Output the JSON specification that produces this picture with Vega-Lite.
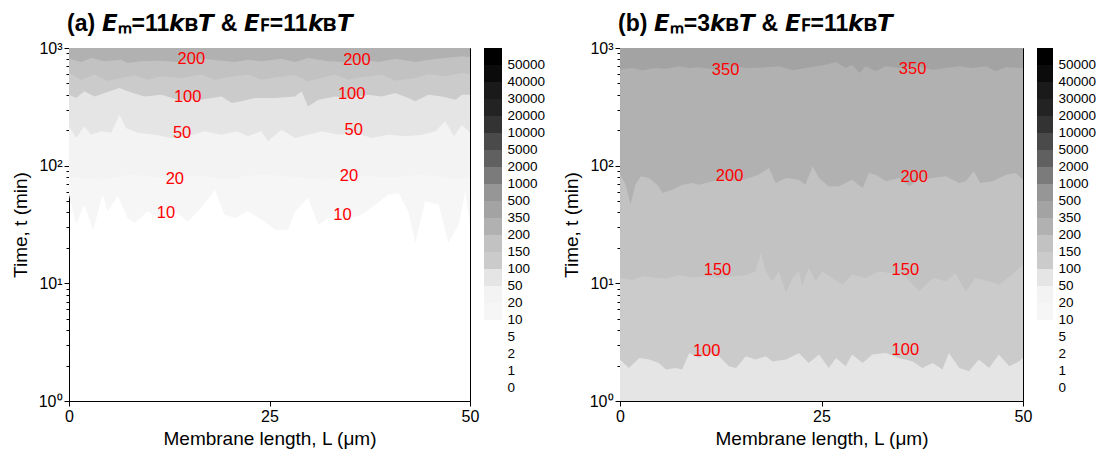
{
  "$schema": "https://vega.github.io/schema/vega-lite/v6.json",
  "background": "white",
  "padding": {"left": 10, "top": 12, "right": 5, "bottom": 5},
  "config": {
    "font": "Liberation Sans",
    "view": {"stroke": "#000000", "strokeWidth": 1},
    "axis": {
      "labelFont": "Liberation Sans",
      "labelFontSize": 16,
      "labelColor": "#000000",
      "titleFont": "Liberation Sans",
      "titleFontSize": 19,
      "titleFontWeight": "normal",
      "titleColor": "#000000",
      "domainColor": "#000000",
      "tickColor": "#000000",
      "grid": false
    },
    "title": {"font": "Liberation Sans", "fontSize": 23, "fontWeight": "bold", "color": "#000000", "anchor": "start", "frame": "group", "offset": 0, "dx": -2}
  },
  "datasets": {
    "contours": [
      {"panel": "a", "level": 10, "L": 0, "t": 56.7}, {"panel": "a", "level": 10, "L": 0.9, "t": 31.5}, {"panel": "a", "level": 10, "L": 1.9, "t": 46.6}, {"panel": "a", "level": 10, "L": 3, "t": 28.6}, {"panel": "a", "level": 10, "L": 4.2, "t": 56.7}, {"panel": "a", "level": 10, "L": 4.8, "t": 40.9}, {"panel": "a", "level": 10, "L": 6.1, "t": 54.9}, {"panel": "a", "level": 10, "L": 7.3, "t": 35.9}, {"panel": "a", "level": 10, "L": 8.2, "t": 32.6}, {"panel": "a", "level": 10, "L": 9.8, "t": 40.9}, {"panel": "a", "level": 10, "L": 11.5, "t": 34.8}, {"panel": "a", "level": 10, "L": 13.2, "t": 40.9}, {"panel": "a", "level": 10, "L": 14.8, "t": 33.6}, {"panel": "a", "level": 10, "L": 16.5, "t": 43.7}, {"panel": "a", "level": 10, "L": 18.2, "t": 62.5}, {"panel": "a", "level": 10, "L": 19.4, "t": 38.3}, {"panel": "a", "level": 10, "L": 20.7, "t": 35.9}, {"panel": "a", "level": 10, "L": 22.3, "t": 40.9}, {"panel": "a", "level": 10, "L": 24, "t": 34.8}, {"panel": "a", "level": 10, "L": 25.7, "t": 28.6}, {"panel": "a", "level": 10, "L": 27.3, "t": 28.6}, {"panel": "a", "level": 10, "L": 28.2, "t": 40.9}, {"panel": "a", "level": 10, "L": 29.8, "t": 53.1}, {"panel": "a", "level": 10, "L": 31.1, "t": 31.5}, {"panel": "a", "level": 10, "L": 32.3, "t": 35.9}, {"panel": "a", "level": 10, "L": 34.4, "t": 34.8}, {"panel": "a", "level": 10, "L": 36.5, "t": 38.3}, {"panel": "a", "level": 10, "L": 38.2, "t": 46.6}, {"panel": "a", "level": 10, "L": 39.8, "t": 56.7}, {"panel": "a", "level": 10, "L": 41.1, "t": 58.6}, {"panel": "a", "level": 10, "L": 42.3, "t": 40.9}, {"panel": "a", "level": 10, "L": 43.2, "t": 22}, {"panel": "a", "level": 10, "L": 44.4, "t": 49.8}, {"panel": "a", "level": 10, "L": 46.1, "t": 46.6}, {"panel": "a", "level": 10, "L": 47.3, "t": 22}, {"panel": "a", "level": 10, "L": 48.6, "t": 31.5}, {"panel": "a", "level": 10, "L": 49.4, "t": 60.5}, {"panel": "a", "level": 10, "L": 50, "t": 31.5},

      {"panel": "a", "level": 20, "L": 0, "t": 80}, {"panel": "a", "level": 20, "L": 4, "t": 76}, {"panel": "a", "level": 20, "L": 8, "t": 84}, {"panel": "a", "level": 20, "L": 12, "t": 78}, {"panel": "a", "level": 20, "L": 16, "t": 82}, {"panel": "a", "level": 20, "L": 20, "t": 77}, {"panel": "a", "level": 20, "L": 24, "t": 85}, {"panel": "a", "level": 20, "L": 28, "t": 80}, {"panel": "a", "level": 20, "L": 32, "t": 76}, {"panel": "a", "level": 20, "L": 36, "t": 83}, {"panel": "a", "level": 20, "L": 40, "t": 79}, {"panel": "a", "level": 20, "L": 44, "t": 84}, {"panel": "a", "level": 20, "L": 48, "t": 77}, {"panel": "a", "level": 20, "L": 50, "t": 80},

      {"panel": "a", "level": 50, "L": 0, "t": 216}, {"panel": "a", "level": 50, "L": 0.9, "t": 172}, {"panel": "a", "level": 50, "L": 1.9, "t": 216}, {"panel": "a", "level": 50, "L": 2.75, "t": 183}, {"panel": "a", "level": 50, "L": 4, "t": 196}, {"panel": "a", "level": 50, "L": 5.25, "t": 190}, {"panel": "a", "level": 50, "L": 6.3, "t": 271}, {"panel": "a", "level": 50, "L": 7.1, "t": 209}, {"panel": "a", "level": 50, "L": 8.6, "t": 190}, {"panel": "a", "level": 50, "L": 10.7, "t": 183}, {"panel": "a", "level": 50, "L": 12.75, "t": 172}, {"panel": "a", "level": 50, "L": 14.8, "t": 178}, {"panel": "a", "level": 50, "L": 16.9, "t": 196}, {"panel": "a", "level": 50, "L": 19, "t": 183}, {"panel": "a", "level": 50, "L": 21, "t": 196}, {"panel": "a", "level": 50, "L": 22.3, "t": 178}, {"panel": "a", "level": 50, "L": 24, "t": 196}, {"panel": "a", "level": 50, "L": 24.8, "t": 161}, {"panel": "a", "level": 50, "L": 26.5, "t": 202}, {"panel": "a", "level": 50, "L": 28.2, "t": 172}, {"panel": "a", "level": 50, "L": 29.8, "t": 183}, {"panel": "a", "level": 50, "L": 31.5, "t": 196}, {"panel": "a", "level": 50, "L": 33.6, "t": 183}, {"panel": "a", "level": 50, "L": 35.7, "t": 190}, {"panel": "a", "level": 50, "L": 37.75, "t": 172}, {"panel": "a", "level": 50, "L": 39.8, "t": 183}, {"panel": "a", "level": 50, "L": 41.9, "t": 178}, {"panel": "a", "level": 50, "L": 44, "t": 183}, {"panel": "a", "level": 50, "L": 45.7, "t": 196}, {"panel": "a", "level": 50, "L": 46.9, "t": 238}, {"panel": "a", "level": 50, "L": 48, "t": 178}, {"panel": "a", "level": 50, "L": 49, "t": 223}, {"panel": "a", "level": 50, "L": 50, "t": 190},

      {"panel": "a", "level": 100, "L": 0, "t": 401}, {"panel": "a", "level": 100, "L": 0.9, "t": 376}, {"panel": "a", "level": 100, "L": 1.9, "t": 428}, {"panel": "a", "level": 100, "L": 3.2, "t": 388}, {"panel": "a", "level": 100, "L": 4.4, "t": 415}, {"panel": "a", "level": 100, "L": 6.3, "t": 457}, {"panel": "a", "level": 100, "L": 7.3, "t": 428}, {"panel": "a", "level": 100, "L": 9.4, "t": 388}, {"panel": "a", "level": 100, "L": 11.5, "t": 401}, {"panel": "a", "level": 100, "L": 13.6, "t": 364}, {"panel": "a", "level": 100, "L": 16.5, "t": 364}, {"panel": "a", "level": 100, "L": 19, "t": 388}, {"panel": "a", "level": 100, "L": 20.3, "t": 341}, {"panel": "a", "level": 100, "L": 21.5, "t": 352}, {"panel": "a", "level": 100, "L": 23.2, "t": 376}, {"panel": "a", "level": 100, "L": 25.7, "t": 376}, {"panel": "a", "level": 100, "L": 28.2, "t": 388}, {"panel": "a", "level": 100, "L": 29, "t": 428}, {"panel": "a", "level": 100, "L": 29.8, "t": 319}, {"panel": "a", "level": 100, "L": 31.1, "t": 364}, {"panel": "a", "level": 100, "L": 33.2, "t": 388}, {"panel": "a", "level": 100, "L": 34.8, "t": 376}, {"panel": "a", "level": 100, "L": 37.3, "t": 401}, {"panel": "a", "level": 100, "L": 39, "t": 388}, {"panel": "a", "level": 100, "L": 40.7, "t": 415}, {"panel": "a", "level": 100, "L": 42.3, "t": 376}, {"panel": "a", "level": 100, "L": 43.2, "t": 352}, {"panel": "a", "level": 100, "L": 44.8, "t": 401}, {"panel": "a", "level": 100, "L": 46.5, "t": 388}, {"panel": "a", "level": 100, "L": 48.2, "t": 364}, {"panel": "a", "level": 100, "L": 49, "t": 401}, {"panel": "a", "level": 100, "L": 50, "t": 401},

      {"panel": "a", "level": 150, "L": 0, "t": 613}, {"panel": "a", "level": 150, "L": 1.5, "t": 538}, {"panel": "a", "level": 150, "L": 3.2, "t": 594}, {"panel": "a", "level": 150, "L": 4.8, "t": 528}, {"panel": "a", "level": 150, "L": 6.5, "t": 556}, {"panel": "a", "level": 150, "L": 8.2, "t": 586}, {"panel": "a", "level": 150, "L": 9.8, "t": 538}, {"panel": "a", "level": 150, "L": 11.5, "t": 574}, {"panel": "a", "level": 150, "L": 14, "t": 556}, {"panel": "a", "level": 150, "L": 16.5, "t": 594}, {"panel": "a", "level": 150, "L": 18.2, "t": 538}, {"panel": "a", "level": 150, "L": 19.8, "t": 563}, {"panel": "a", "level": 150, "L": 22.3, "t": 594}, {"panel": "a", "level": 150, "L": 24, "t": 538}, {"panel": "a", "level": 150, "L": 25.7, "t": 563}, {"panel": "a", "level": 150, "L": 28.2, "t": 586}, {"panel": "a", "level": 150, "L": 29.8, "t": 521}, {"panel": "a", "level": 150, "L": 31.5, "t": 556}, {"panel": "a", "level": 150, "L": 33.2, "t": 594}, {"panel": "a", "level": 150, "L": 34.8, "t": 538}, {"panel": "a", "level": 150, "L": 36.5, "t": 563}, {"panel": "a", "level": 150, "L": 39, "t": 594}, {"panel": "a", "level": 150, "L": 40.7, "t": 528}, {"panel": "a", "level": 150, "L": 43.2, "t": 556}, {"panel": "a", "level": 150, "L": 44.8, "t": 601}, {"panel": "a", "level": 150, "L": 46.9, "t": 574}, {"panel": "a", "level": 150, "L": 49, "t": 613}, {"panel": "a", "level": 150, "L": 50, "t": 594},

      {"panel": "a", "level": 200, "L": 0, "t": 812}, {"panel": "a", "level": 200, "L": 1.5, "t": 760}, {"panel": "a", "level": 200, "L": 2.75, "t": 822}, {"panel": "a", "level": 200, "L": 4.4, "t": 770}, {"panel": "a", "level": 200, "L": 6.5, "t": 796}, {"panel": "a", "level": 200, "L": 7.3, "t": 746}, {"panel": "a", "level": 200, "L": 9, "t": 770}, {"panel": "a", "level": 200, "L": 11.5, "t": 780}, {"panel": "a", "level": 200, "L": 13.6, "t": 760}, {"panel": "a", "level": 200, "L": 16.9, "t": 812}, {"panel": "a", "level": 200, "L": 19, "t": 780}, {"panel": "a", "level": 200, "L": 20.7, "t": 760}, {"panel": "a", "level": 200, "L": 22.3, "t": 796}, {"panel": "a", "level": 200, "L": 24, "t": 770}, {"panel": "a", "level": 200, "L": 26.5, "t": 812}, {"panel": "a", "level": 200, "L": 28.2, "t": 760}, {"panel": "a", "level": 200, "L": 29.8, "t": 822}, {"panel": "a", "level": 200, "L": 32.3, "t": 770}, {"panel": "a", "level": 200, "L": 34.4, "t": 760}, {"panel": "a", "level": 200, "L": 36.5, "t": 796}, {"panel": "a", "level": 200, "L": 38.6, "t": 760}, {"panel": "a", "level": 200, "L": 40.7, "t": 812}, {"panel": "a", "level": 200, "L": 43.2, "t": 760}, {"panel": "a", "level": 200, "L": 44.8, "t": 796}, {"panel": "a", "level": 200, "L": 46.9, "t": 822}, {"panel": "a", "level": 200, "L": 49, "t": 850}, {"panel": "a", "level": 200, "L": 50, "t": 833},

      {"panel": "b", "level": 50, "L": 0, "t": 1}, {"panel": "b", "level": 50, "L": 50, "t": 1},

      {"panel": "b", "level": 100, "L": 0, "t": 2.25}, {"panel": "b", "level": 100, "L": 1.1, "t": 1.91}, {"panel": "b", "level": 100, "L": 2.4, "t": 2.32}, {"panel": "b", "level": 100, "L": 3.6, "t": 2.25}, {"panel": "b", "level": 100, "L": 4.8, "t": 2.1}, {"panel": "b", "level": 100, "L": 5.7, "t": 1.85}, {"panel": "b", "level": 100, "L": 6.9, "t": 1.91}, {"panel": "b", "level": 100, "L": 7.7, "t": 1.85}, {"panel": "b", "level": 100, "L": 8.6, "t": 2.56}, {"panel": "b", "level": 100, "L": 9.8, "t": 2.32}, {"panel": "b", "level": 100, "L": 11, "t": 2.56}, {"panel": "b", "level": 100, "L": 12.3, "t": 2.4}, {"panel": "b", "level": 100, "L": 13.5, "t": 1.97}, {"panel": "b", "level": 100, "L": 14.4, "t": 1.91}, {"panel": "b", "level": 100, "L": 15.6, "t": 2.4}, {"panel": "b", "level": 100, "L": 16.8, "t": 2.25}, {"panel": "b", "level": 100, "L": 18.1, "t": 2.4}, {"panel": "b", "level": 100, "L": 18.9, "t": 2.17}, {"panel": "b", "level": 100, "L": 20.6, "t": 2.25}, {"panel": "b", "level": 100, "L": 22.2, "t": 2.56}, {"panel": "b", "level": 100, "L": 23.4, "t": 2.1}, {"panel": "b", "level": 100, "L": 24.7, "t": 2.48}, {"panel": "b", "level": 100, "L": 25.9, "t": 1.91}, {"panel": "b", "level": 100, "L": 26.8, "t": 2.32}, {"panel": "b", "level": 100, "L": 28, "t": 1.97}, {"panel": "b", "level": 100, "L": 28.8, "t": 2.48}, {"panel": "b", "level": 100, "L": 30.1, "t": 2.1}, {"panel": "b", "level": 100, "L": 31.3, "t": 2.48}, {"panel": "b", "level": 100, "L": 33, "t": 2.56}, {"panel": "b", "level": 100, "L": 34.6, "t": 2.32}, {"panel": "b", "level": 100, "L": 36.3, "t": 2.17}, {"panel": "b", "level": 100, "L": 37.5, "t": 1.91}, {"panel": "b", "level": 100, "L": 38.8, "t": 2.1}, {"panel": "b", "level": 100, "L": 40, "t": 1.85}, {"panel": "b", "level": 100, "L": 40.8, "t": 2.56}, {"panel": "b", "level": 100, "L": 42.1, "t": 1.91}, {"panel": "b", "level": 100, "L": 43.3, "t": 1.79}, {"panel": "b", "level": 100, "L": 44.5, "t": 2.25}, {"panel": "b", "level": 100, "L": 45.8, "t": 1.91}, {"panel": "b", "level": 100, "L": 47, "t": 2.48}, {"panel": "b", "level": 100, "L": 48.3, "t": 1.97}, {"panel": "b", "level": 100, "L": 49.5, "t": 2.17}, {"panel": "b", "level": 100, "L": 50, "t": 2.32},

      {"panel": "b", "level": 150, "L": 0, "t": 11.1}, {"panel": "b", "level": 150, "L": 1.5, "t": 10.7}, {"panel": "b", "level": 150, "L": 2.8, "t": 11.5}, {"panel": "b", "level": 150, "L": 4.4, "t": 11.1}, {"panel": "b", "level": 150, "L": 5.7, "t": 11}, {"panel": "b", "level": 150, "L": 7.3, "t": 11.7}, {"panel": "b", "level": 150, "L": 9, "t": 11.2}, {"panel": "b", "level": 150, "L": 10.6, "t": 11.5}, {"panel": "b", "level": 150, "L": 12.3, "t": 11.1}, {"panel": "b", "level": 150, "L": 13.9, "t": 11.5}, {"panel": "b", "level": 150, "L": 15.6, "t": 11.7}, {"panel": "b", "level": 150, "L": 16.8, "t": 12.6}, {"panel": "b", "level": 150, "L": 17.5, "t": 18.1}, {"panel": "b", "level": 150, "L": 18.1, "t": 12.6}, {"panel": "b", "level": 150, "L": 18.9, "t": 10.4}, {"panel": "b", "level": 150, "L": 19.7, "t": 12.6}, {"panel": "b", "level": 150, "L": 20.6, "t": 8.28}, {"panel": "b", "level": 150, "L": 21.4, "t": 11.1}, {"panel": "b", "level": 150, "L": 22.2, "t": 12.6}, {"panel": "b", "level": 150, "L": 22.6, "t": 9.43}, {"panel": "b", "level": 150, "L": 23.4, "t": 13.5}, {"panel": "b", "level": 150, "L": 24.3, "t": 10.4}, {"panel": "b", "level": 150, "L": 25.1, "t": 12.6}, {"panel": "b", "level": 150, "L": 26.3, "t": 11.1}, {"panel": "b", "level": 150, "L": 27.6, "t": 9.74}, {"panel": "b", "level": 150, "L": 28.8, "t": 11.9}, {"panel": "b", "level": 150, "L": 30.5, "t": 11.1}, {"panel": "b", "level": 150, "L": 32.1, "t": 12.6}, {"panel": "b", "level": 150, "L": 33.8, "t": 12.2}, {"panel": "b", "level": 150, "L": 35.4, "t": 11.5}, {"panel": "b", "level": 150, "L": 37.1, "t": 8.55}, {"panel": "b", "level": 150, "L": 38.8, "t": 11.1}, {"panel": "b", "level": 150, "L": 40.4, "t": 10.4}, {"panel": "b", "level": 150, "L": 41.6, "t": 12.2}, {"panel": "b", "level": 150, "L": 42.9, "t": 8.55}, {"panel": "b", "level": 150, "L": 44.1, "t": 11.1}, {"panel": "b", "level": 150, "L": 45.8, "t": 10.4}, {"panel": "b", "level": 150, "L": 47, "t": 9.74}, {"panel": "b", "level": 150, "L": 48.7, "t": 11.9}, {"panel": "b", "level": 150, "L": 50, "t": 14.4},

      {"panel": "b", "level": 200, "L": 0, "t": 83.9}, {"panel": "b", "level": 200, "L": 0.7, "t": 69}, {"panel": "b", "level": 200, "L": 1.3, "t": 46.6}, {"panel": "b", "level": 200, "L": 1.9, "t": 69}, {"panel": "b", "level": 200, "L": 2.6, "t": 81.2}, {"panel": "b", "level": 200, "L": 3.6, "t": 78.6}, {"panel": "b", "level": 200, "L": 4.6, "t": 69}, {"panel": "b", "level": 200, "L": 5.3, "t": 58.6}, {"panel": "b", "level": 200, "L": 6.5, "t": 62.5}, {"panel": "b", "level": 200, "L": 7.7, "t": 69}, {"panel": "b", "level": 200, "L": 9, "t": 71.2}, {"panel": "b", "level": 200, "L": 9.8, "t": 69}, {"panel": "b", "level": 200, "L": 11.5, "t": 73.6}, {"panel": "b", "level": 200, "L": 13.1, "t": 76}, {"panel": "b", "level": 200, "L": 14.8, "t": 73.6}, {"panel": "b", "level": 200, "L": 16, "t": 78.6}, {"panel": "b", "level": 200, "L": 17.2, "t": 83.9}, {"panel": "b", "level": 200, "L": 18.5, "t": 95.5}, {"panel": "b", "level": 200, "L": 19.3, "t": 71.2}, {"panel": "b", "level": 200, "L": 20.6, "t": 78.6}, {"panel": "b", "level": 200, "L": 22.2, "t": 76}, {"panel": "b", "level": 200, "L": 23, "t": 69}, {"panel": "b", "level": 200, "L": 23.9, "t": 98.7}, {"panel": "b", "level": 200, "L": 24.7, "t": 78.6}, {"panel": "b", "level": 200, "L": 25.9, "t": 66.7}, {"panel": "b", "level": 200, "L": 27.2, "t": 66.7}, {"panel": "b", "level": 200, "L": 28.8, "t": 76}, {"panel": "b", "level": 200, "L": 30.1, "t": 64.6}, {"panel": "b", "level": 200, "L": 30.9, "t": 86.6}, {"panel": "b", "level": 200, "L": 31.7, "t": 83.9}, {"panel": "b", "level": 200, "L": 33, "t": 73.6}, {"panel": "b", "level": 200, "L": 34.6, "t": 78.6}, {"panel": "b", "level": 200, "L": 35.9, "t": 66.7}, {"panel": "b", "level": 200, "L": 37.1, "t": 76}, {"panel": "b", "level": 200, "L": 38.8, "t": 78.6}, {"panel": "b", "level": 200, "L": 40.4, "t": 81.2}, {"panel": "b", "level": 200, "L": 42.1, "t": 71.2}, {"panel": "b", "level": 200, "L": 42.9, "t": 73.6}, {"panel": "b", "level": 200, "L": 43.9, "t": 89.5}, {"panel": "b", "level": 200, "L": 44.7, "t": 71.2}, {"panel": "b", "level": 200, "L": 46.2, "t": 73.6}, {"panel": "b", "level": 200, "L": 47.9, "t": 83.9}, {"panel": "b", "level": 200, "L": 49.1, "t": 86.6}, {"panel": "b", "level": 200, "L": 50, "t": 76},

      {"panel": "b", "level": 350, "L": 0, "t": 654}, {"panel": "b", "level": 350, "L": 1.5, "t": 676}, {"panel": "b", "level": 350, "L": 2.8, "t": 646}, {"panel": "b", "level": 350, "L": 4.4, "t": 676}, {"panel": "b", "level": 350, "L": 5.7, "t": 667}, {"panel": "b", "level": 350, "L": 7.3, "t": 699}, {"panel": "b", "level": 350, "L": 8.6, "t": 676}, {"panel": "b", "level": 350, "L": 9.8, "t": 685}, {"panel": "b", "level": 350, "L": 11.9, "t": 654}, {"panel": "b", "level": 350, "L": 13.9, "t": 699}, {"panel": "b", "level": 350, "L": 16, "t": 676}, {"panel": "b", "level": 350, "L": 18.1, "t": 685}, {"panel": "b", "level": 350, "L": 19.7, "t": 699}, {"panel": "b", "level": 350, "L": 21.4, "t": 646}, {"panel": "b", "level": 350, "L": 23, "t": 676}, {"panel": "b", "level": 350, "L": 25.5, "t": 722}, {"panel": "b", "level": 350, "L": 26.8, "t": 760}, {"panel": "b", "level": 350, "L": 28, "t": 676}, {"panel": "b", "level": 350, "L": 28.8, "t": 722}, {"panel": "b", "level": 350, "L": 29.7, "t": 613}, {"panel": "b", "level": 350, "L": 30.5, "t": 699}, {"panel": "b", "level": 350, "L": 31.7, "t": 633}, {"panel": "b", "level": 350, "L": 33, "t": 699}, {"panel": "b", "level": 350, "L": 34.6, "t": 676}, {"panel": "b", "level": 350, "L": 36.7, "t": 699}, {"panel": "b", "level": 350, "L": 38.8, "t": 654}, {"panel": "b", "level": 350, "L": 40.4, "t": 676}, {"panel": "b", "level": 350, "L": 42.1, "t": 699}, {"panel": "b", "level": 350, "L": 43.7, "t": 676}, {"panel": "b", "level": 350, "L": 45.4, "t": 699}, {"panel": "b", "level": 350, "L": 46.6, "t": 633}, {"panel": "b", "level": 350, "L": 47.9, "t": 685}, {"panel": "b", "level": 350, "L": 50, "t": 676}
    ],
    "labels": [
      {"panel": "a", "level": 200, "L": 15.25, "t": 812}, {"panel": "a", "level": 200, "L": 35.9, "t": 796},
      {"panel": "a", "level": 100, "L": 14.8, "t": 383}, {"panel": "a", "level": 100, "L": 35.25, "t": 409},
      {"panel": "a", "level": 50, "L": 14.1, "t": 190}, {"panel": "a", "level": 50, "L": 35.5, "t": 202},
      {"panel": "a", "level": 20, "L": 13.2, "t": 77.5}, {"panel": "a", "level": 20, "L": 34.9, "t": 81.2},
      {"panel": "a", "level": 10, "L": 12.1, "t": 39.6}, {"panel": "a", "level": 10, "L": 34.1, "t": 37.8},
      {"panel": "b", "level": 350, "L": 13.1, "t": 654}, {"panel": "b", "level": 350, "L": 36.3, "t": 667},
      {"panel": "b", "level": 200, "L": 13.6, "t": 81.2}, {"panel": "b", "level": 200, "L": 36.5, "t": 80},
      {"panel": "b", "level": 150, "L": 12.1, "t": 13.1}, {"panel": "b", "level": 150, "L": 35.4, "t": 13.1},
      {"panel": "b", "level": 100, "L": 10.75, "t": 2.64}, {"panel": "b", "level": 100, "L": 35.4, "t": 2.7}
    ],
    "bands": [
      {"level": 50000}, {"level": 40000}, {"level": 30000}, {"level": 20000}, {"level": 10000},
      {"level": 5000}, {"level": 2000}, {"level": 1000}, {"level": 500}, {"level": 350},
      {"level": 200}, {"level": 150}, {"level": 100}, {"level": 50}, {"level": 20},
      {"level": 10}, {"level": 5}, {"level": 2}, {"level": 1}, {"level": 0}
    ],
    "gap": []
  },
  "bounds": "flush",
  "spacing": 14,
  "hconcat": [
    {
      "title": {"text": "(a) 𝙀ₘ=11𝙠ʙ𝙏 & 𝙀ꜰ=11𝙠ʙ𝙏"},
      "width": 401,
      "height": 353,
      "data": {"name": "contours"},
      "encoding": {
        "x": {"field": "L", "type": "quantitative", "scale": {"domain": [0, 50], "nice": false, "zero": false},
              "axis": {"values": [0, 25, 50], "title": "Membrane length, L (μm)", "labelFlush": false, "tickSize": 5, "titlePadding": 5}},
        "y": {"field": "t", "type": "quantitative", "scale": {"type": "log", "domain": [1, 1000], "nice": false},
              "axis": {"values": [1, 2, 3, 4, 5, 6, 7, 8, 9, 10, 20, 30, 40, 50, 60, 70, 80, 90, 100, 200, 300, 400, 500, 600, 700, 800, 900, 1000],
                       "title": "Time, t (min)", "labelFlush": false, "labelOverlap": false, "titlePadding": 8,
                       "labelExpr": "datum.value == 1 ? '10⁰' : datum.value == 10 ? '10¹' : datum.value == 100 ? '10²' : datum.value == 1000 ? '10³' : ''",
                       "tickSize": {"condition": {"test": "datum.value == 1 || datum.value == 10 || datum.value == 100 || datum.value == 1000", "value": 5}, "value": 3}}},
        "color": {"field": "level", "type": "ordinal", "legend": null,
                  "scale": {"domain": [0, 1, 2, 5, 10, 20, 50, 100, 150, 200, 350, 500, 1000, 2000, 5000, 10000, 20000, 30000, 40000, 50000],
                            "range": ["#ffffff", "#ffffff", "#ffffff", "#ffffff", "#f6f6f6", "#f3f3f3", "#e5e5e5", "#cbcbcb", "#c2c2c2", "#b1b1b1", "#a3a3a3", "#969696", "#7b7b7b", "#606060", "#4a4a4a", "#333333", "#232323", "#1a1a1a", "#0b0b0b", "#000000"]}}
      },
      "layer": [
        {"transform": [{"filter": "datum.panel == 'a' && datum.level == 10"}], "mark": {"type": "area", "clip": true}, "encoding": {"y2": {"datum": 1000}}},
        {"transform": [{"filter": "datum.panel == 'a' && datum.level == 20"}], "mark": {"type": "area", "clip": true}, "encoding": {"y2": {"datum": 1000}}},
        {"transform": [{"filter": "datum.panel == 'a' && datum.level == 50"}], "mark": {"type": "area", "clip": true}, "encoding": {"y2": {"datum": 1000}}},
        {"transform": [{"filter": "datum.panel == 'a' && datum.level == 100"}], "mark": {"type": "area", "clip": true}, "encoding": {"y2": {"datum": 1000}}},
        {"transform": [{"filter": "datum.panel == 'a' && datum.level == 150"}], "mark": {"type": "area", "clip": true}, "encoding": {"y2": {"datum": 1000}}},
        {"transform": [{"filter": "datum.panel == 'a' && datum.level == 200"}], "mark": {"type": "area", "clip": true}, "encoding": {"y2": {"datum": 1000}}},
        {"data": {"name": "labels"}, "transform": [{"filter": "datum.panel == 'a'"}],
         "mark": {"type": "text", "fontSize": 16.5, "font": "Liberation Sans"},
         "encoding": {"text": {"field": "level", "type": "nominal"}, "color": {"value": "#ff0000"}}}
      ]
    },
    {
      "width": 18,
      "height": 340,
      "view": {"stroke": null},
      "data": {"name": "bands"},
      "mark": {"type": "rect"},
      "encoding": {
        "y": {"field": "level", "type": "ordinal",
              "scale": {"domain": [50000, 40000, 30000, 20000, 10000, 5000, 2000, 1000, 500, 350, 200, 150, 100, 50, 20, 10, 5, 2, 1, 0], "paddingInner": 0, "paddingOuter": 0},
              "axis": {"orient": "right", "domain": false, "ticks": false, "title": null, "labelOffset": 8.5, "labelPadding": 5, "labelFontSize": 13.5, "labelAlign": "left", "labelBaseline": "middle"}},
        "color": {"field": "level", "type": "ordinal", "legend": null,
                  "scale": {"domain": [0, 1, 2, 5, 10, 20, 50, 100, 150, 200, 350, 500, 1000, 2000, 5000, 10000, 20000, 30000, 40000, 50000],
                            "range": ["#ffffff", "#ffffff", "#ffffff", "#ffffff", "#f6f6f6", "#f3f3f3", "#e5e5e5", "#cbcbcb", "#c2c2c2", "#b1b1b1", "#a3a3a3", "#969696", "#7b7b7b", "#606060", "#4a4a4a", "#333333", "#232323", "#1a1a1a", "#0b0b0b", "#000000"]}}
      }
    },
    {
      "width": 90,
      "height": 353,
      "view": {"stroke": null},
      "data": {"name": "gap"},
      "mark": {"type": "point"},
      "encoding": {}
    },
    {
      "title": {"text": "(b) 𝙀ₘ=3𝙠ʙ𝙏 & 𝙀ꜰ=11𝙠ʙ𝙏"},
      "width": 403,
      "height": 353,
      "data": {"name": "contours"},
      "encoding": {
        "x": {"field": "L", "type": "quantitative", "scale": {"domain": [0, 50], "nice": false, "zero": false},
              "axis": {"values": [0, 25, 50], "title": "Membrane length, L (μm)", "labelFlush": false, "tickSize": 5, "titlePadding": 5}},
        "y": {"field": "t", "type": "quantitative", "scale": {"type": "log", "domain": [1, 1000], "nice": false},
              "axis": {"values": [1, 2, 3, 4, 5, 6, 7, 8, 9, 10, 20, 30, 40, 50, 60, 70, 80, 90, 100, 200, 300, 400, 500, 600, 700, 800, 900, 1000],
                       "title": "Time, t (min)", "labelFlush": false, "labelOverlap": false, "titlePadding": 8,
                       "labelExpr": "datum.value == 1 ? '10⁰' : datum.value == 10 ? '10¹' : datum.value == 100 ? '10²' : datum.value == 1000 ? '10³' : ''",
                       "tickSize": {"condition": {"test": "datum.value == 1 || datum.value == 10 || datum.value == 100 || datum.value == 1000", "value": 5}, "value": 3}}},
        "color": {"field": "level", "type": "ordinal", "legend": null,
                  "scale": {"domain": [0, 1, 2, 5, 10, 20, 50, 100, 150, 200, 350, 500, 1000, 2000, 5000, 10000, 20000, 30000, 40000, 50000],
                            "range": ["#ffffff", "#ffffff", "#ffffff", "#ffffff", "#f6f6f6", "#f3f3f3", "#e5e5e5", "#cbcbcb", "#c2c2c2", "#b1b1b1", "#a3a3a3", "#969696", "#7b7b7b", "#606060", "#4a4a4a", "#333333", "#232323", "#1a1a1a", "#0b0b0b", "#000000"]}}
      },
      "layer": [
        {"transform": [{"filter": "datum.panel == 'b' && datum.level == 50"}], "mark": {"type": "area", "clip": true}, "encoding": {"y2": {"datum": 1000}}},
        {"transform": [{"filter": "datum.panel == 'b' && datum.level == 100"}], "mark": {"type": "area", "clip": true}, "encoding": {"y2": {"datum": 1000}}},
        {"transform": [{"filter": "datum.panel == 'b' && datum.level == 150"}], "mark": {"type": "area", "clip": true}, "encoding": {"y2": {"datum": 1000}}},
        {"transform": [{"filter": "datum.panel == 'b' && datum.level == 200"}], "mark": {"type": "area", "clip": true}, "encoding": {"y2": {"datum": 1000}}},
        {"transform": [{"filter": "datum.panel == 'b' && datum.level == 350"}], "mark": {"type": "area", "clip": true}, "encoding": {"y2": {"datum": 1000}}},
        {"data": {"name": "labels"}, "transform": [{"filter": "datum.panel == 'b'"}],
         "mark": {"type": "text", "fontSize": 16.5, "font": "Liberation Sans"},
         "encoding": {"text": {"field": "level", "type": "nominal"}, "color": {"value": "#ff0000"}}}
      ]
    },
    {
      "width": 16,
      "height": 340,
      "view": {"stroke": null},
      "data": {"name": "bands"},
      "mark": {"type": "rect"},
      "encoding": {
        "y": {"field": "level", "type": "ordinal",
              "scale": {"domain": [50000, 40000, 30000, 20000, 10000, 5000, 2000, 1000, 500, 350, 200, 150, 100, 50, 20, 10, 5, 2, 1, 0], "paddingInner": 0, "paddingOuter": 0},
              "axis": {"orient": "right", "domain": false, "ticks": false, "title": null, "labelOffset": 8.5, "labelPadding": 5, "labelFontSize": 13.5, "labelAlign": "left", "labelBaseline": "middle"}},
        "color": {"field": "level", "type": "ordinal", "legend": null,
                  "scale": {"domain": [0, 1, 2, 5, 10, 20, 50, 100, 150, 200, 350, 500, 1000, 2000, 5000, 10000, 20000, 30000, 40000, 50000],
                            "range": ["#ffffff", "#ffffff", "#ffffff", "#ffffff", "#f6f6f6", "#f3f3f3", "#e5e5e5", "#cbcbcb", "#c2c2c2", "#b1b1b1", "#a3a3a3", "#969696", "#7b7b7b", "#606060", "#4a4a4a", "#333333", "#232323", "#1a1a1a", "#0b0b0b", "#000000"]}}
      }
    }
  ]
}
